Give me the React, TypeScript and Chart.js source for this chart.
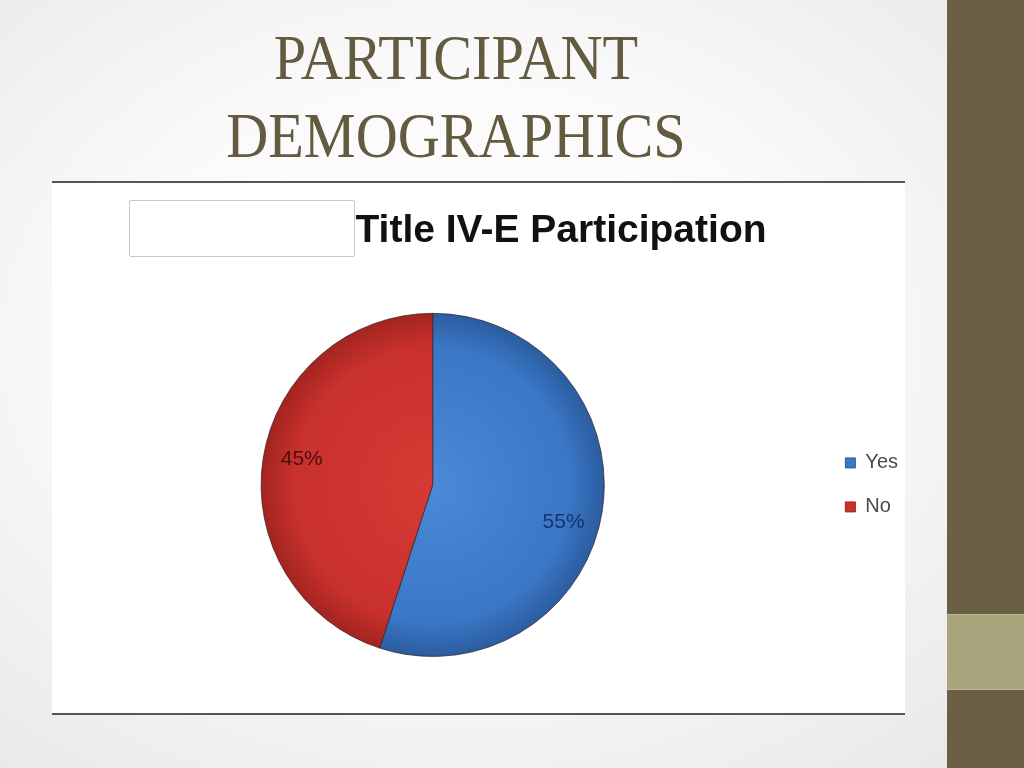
import React, { useEffect, useRef } from 'react'
import { Chart, registerables } from 'chart.js'

Chart.register(...registerables)

const categories = ['Yes', 'No']
const shares = [55, 45]
const baseColors = ['#3a77c6', '#c9312d']
const lightColors = ['#4b8ad8', '#d63a34']
const edgeColors = ['#2b5c9e', '#a3241f']
const labelColors = ['#17336b', '#4a1010']

// slice labels drawn a bit inside the rim, near each slice's middle angle
const sliceLabels = {
  id: 'sliceLabels',
  afterDatasetsDraw(chart: Chart) {
    const ctx = chart.ctx
    const meta = chart.getDatasetMeta(0)
    ctx.save()
    ctx.font = '21px "Liberation Sans", Arial, sans-serif'
    ctx.textAlign = 'center'
    ctx.textBaseline = 'middle'
    meta.data.forEach((el: any, i: number) => {
      const { x, y, startAngle, endAngle, outerRadius } = el.getProps(
        ['x', 'y', 'startAngle', 'endAngle', 'outerRadius'],
        true
      )
      const mid = (startAngle + endAngle) / 2 + 0.08
      const r = outerRadius * 0.785
      ctx.fillStyle = labelColors[i]
      ctx.fillText(shares[i] + '%', x + Math.cos(mid) * r, y + Math.sin(mid) * r + 6)
    })
    ctx.restore()
  },
}

// the slide puts the chart title to the right of a blank box, not over the pie
const titleOffset = {
  id: 'titleOffset',
  afterLayout(chart: Chart) {
    const tb: any = (chart as any).titleBlock
    if (!tb) return
    const w = tb.right - tb.left
    const cx = 531
    tb.left = cx - w / 2
    tb.right = cx + w / 2
  },
}

const PieChart: React.FC = () => {
  const ref = useRef<HTMLCanvasElement | null>(null)

  useEffect(() => {
    if (!ref.current) return
    const chart = new Chart(ref.current, {
      type: 'pie',
      data: {
        labels: categories,
        datasets: [
          {
            data: shares,
            backgroundColor: (c: any) => {
              const i = c.dataIndex
              const area = c.chart.chartArea
              if (!area || i === undefined) return baseColors[i ?? 0]
              const cx = (area.left + area.right) / 2
              const cy = (area.top + area.bottom) / 2
              const r = Math.min(area.right - area.left, area.bottom - area.top) / 2
              const g = c.chart.ctx.createRadialGradient(cx, cy, 0, cx, cy, r)
              g.addColorStop(0, lightColors[i])
              g.addColorStop(0.8, baseColors[i])
              g.addColorStop(1, edgeColors[i])
              return g
            },
            borderColor: 'rgba(50,30,40,0.7)',
            borderWidth: 1,
          },
        ],
      },
      options: {
        responsive: false,
        animation: false,
        layout: { padding: { left: 14, right: 6, top: 0, bottom: 55 } },
        plugins: {
          title: {
            display: true,
            text: 'Title IV-E Participation',
            color: '#111',
            font: { family: '"Liberation Sans", Arial, sans-serif', size: 39, weight: 'bold' },
            padding: { top: 24, bottom: 58 },
          },
          legend: {
            position: 'right',
            fullSize: false,
            labels: {
              boxWidth: 10,
              boxHeight: 10,
              padding: 24,
              color: '#4a4a4a',
              font: { family: '"Liberation Sans", Arial, sans-serif', size: 20 },
              generateLabels: () =>
                categories.map((label, i) => ({
                  text: label,
                  fillStyle: baseColors[i],
                  strokeStyle: edgeColors[i],
                  lineWidth: 1,
                  hidden: false,
                  index: i,
                  fontColor: '#4a4a4a',
                })),
            },
          },
          tooltip: { enabled: false },
        },
      },
      plugins: [sliceLabels, titleOffset],
    })
    return () => chart.destroy()
  }, [])

  return <canvas ref={ref} width={884} height={528} />
}

export default function App() {
  const heading: React.CSSProperties = {
    position: 'absolute',
    left: 0,
    width: 912,
    textAlign: 'center',
    fontFamily: '"Liberation Serif", "Times New Roman", serif',
    fontSize: 64,
    lineHeight: '78px',
    color: '#625b3f',
    transform: 'scaleX(0.91)',
    transformOrigin: 'center',
    whiteSpace: 'nowrap',
  }
  return (
    <div
      style={{
        position: 'fixed',
        left: 0,
        top: 0,
        width: 1024,
        height: 768,
        overflow: 'hidden',
        background: 'radial-gradient(ellipse at 45% 45%, #ffffff 0%, #fafafa 45%, #e6e6e6 100%)',
      }}
    >
      <div style={{ ...heading, top: 19 }}>PARTICIPANT</div>
      <div style={{ ...heading, top: 97 }}>DEMOGRAPHICS</div>

      <div
        style={{
          position: 'absolute',
          left: 52,
          top: 181,
          width: 853,
          height: 530,
          background: '#fff',
          borderTop: '2px solid #555',
          borderBottom: '2px solid #555',
        }}
      />
      <div
        style={{
          position: 'absolute',
          left: 129,
          top: 200,
          width: 224,
          height: 55,
          background: '#fff',
          border: '1px solid #c8c8c8',
          borderRadius: 2,
        }}
      />
      <div style={{ position: 'absolute', left: 30, top: 184 }}>
        <PieChart />
      </div>

      <div style={{ position: 'absolute', left: 947, top: 0, width: 77, height: 768, background: '#6b5f46' }} />
      <div
        style={{
          position: 'absolute',
          left: 947,
          top: 614,
          width: 77,
          height: 76,
          background: '#a8a47c',
          borderTop: '1px solid #bdb890',
          borderBottom: '1px solid #bdb890',
          boxSizing: 'border-box',
        }}
      />
    </div>
  )
}
